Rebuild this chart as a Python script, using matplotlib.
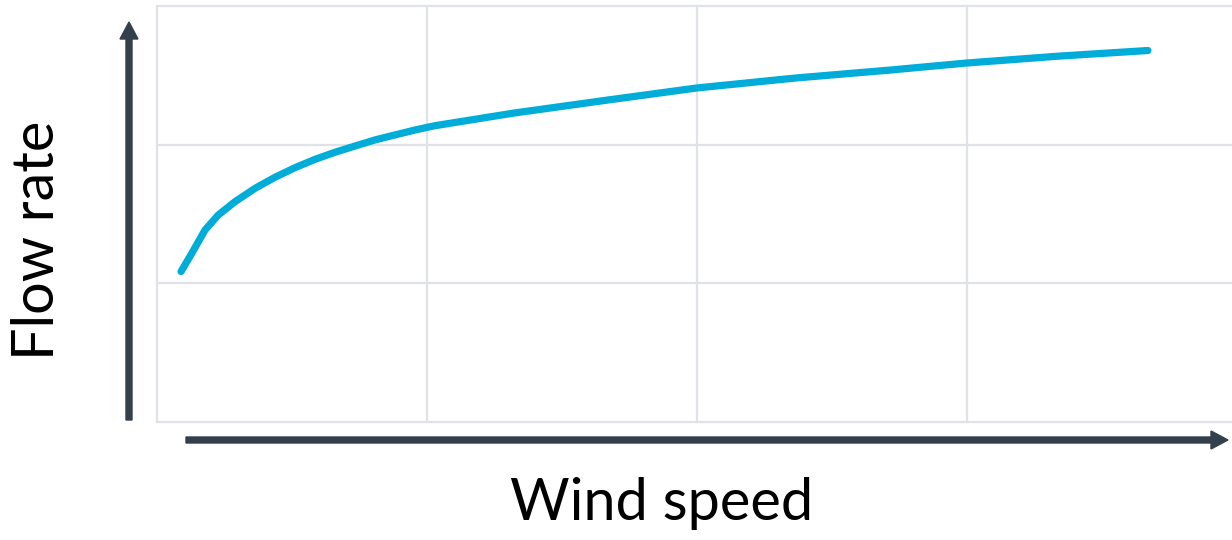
import matplotlib.pyplot as plt
from matplotlib.patches import FancyArrow
from matplotlib.transforms import IdentityTransform

# Values (grid units: x 0..4, y 0..3)
wind_speed = [0.089, 0.129, 0.178, 0.227, 0.289, 0.363, 0.437, 0.511, 0.585,
              0.659, 0.733, 0.807, 0.881, 0.956, 1.030, 1.322, 1.670, 2.000,
              2.367, 2.715, 3.000, 3.344, 3.670]
flow_rate = [1.085, 1.217, 1.385, 1.493, 1.589, 1.685, 1.765, 1.834, 1.894,
             1.945, 1.990, 2.034, 2.070, 2.106, 2.137, 2.228, 2.322, 2.409,
             2.481, 2.538, 2.589, 2.639, 2.679]
x_ticks = [0, 1, 2, 3, 4]
y_ticks = [0, 1, 2, 3]

plt.rcParams['font.family'] = ['Lato', 'DejaVu Sans']

W, H = 1232, 540
fig = plt.figure(figsize=(W / 100, H / 100), dpi=100)
ax = fig.add_axes([157 / W, 118 / H, 1080 / W, 416 / H])

ax.plot(wind_speed, flow_rate, color='#00acd8', linewidth=5.2,
        solid_capstyle='round', solid_joinstyle='round', zorder=3)

ax.set_xlim(0, 4)
ax.set_ylim(0, 3)
ax.set_xticks(x_ticks)
ax.set_yticks(y_ticks)
ax.grid(True, color='#dfe3e8', linewidth=1.6)
for line in ax.get_xgridlines() + ax.get_ygridlines():
    line.set_clip_on(False)
ax.tick_params(length=0, labelbottom=False, labelleft=False)
for s in ax.spines.values():
    s.set_visible(False)

# Axis arrows (figure pixels)
dark = '#333f4a'
fig.add_artist(FancyArrow(129, 120, 0, 398, width=6, head_width=18, head_length=17,
                          length_includes_head=True, color=dark,
                          transform=IdentityTransform()))
fig.add_artist(FancyArrow(186, 100, 1042, 0, width=6, head_width=18, head_length=17,
                          length_includes_head=True, color=dark,
                          transform=IdentityTransform()))

fig.text(38 / W, 1 - 240 / H, 'Flow rate', rotation=90, fontsize=41.5,
         ha='center', va='center')
fig.text(662 / W, 1 - 503 / H, 'Wind speed', fontsize=41.5,
         ha='center', va='center')

fig.savefig('out.png', dpi=100)
